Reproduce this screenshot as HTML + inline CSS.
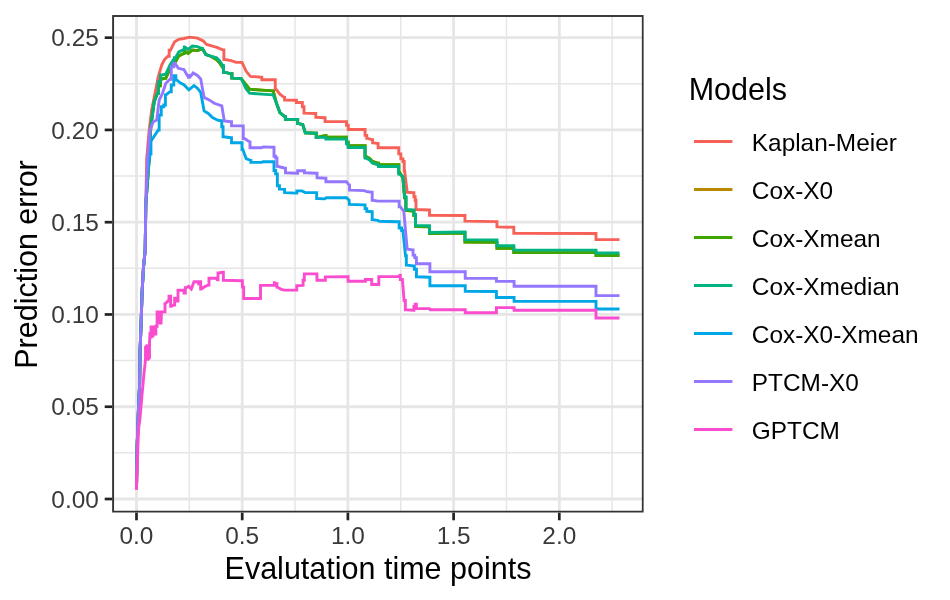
<!DOCTYPE html>
<html><head><meta charset="utf-8"><style>
html,body{margin:0;padding:0;background:#fff;width:950px;height:600px;overflow:hidden}
svg{display:block;will-change:transform}
text{font-family:"Liberation Sans",sans-serif}
.ax{font-size:24.4px;fill:#393939}
.ti{font-size:30.5px;fill:#000}
.lg{font-size:24.4px;fill:#000}
</style></head><body>
<svg width="950" height="600" viewBox="0 0 950 600">
<rect width="950" height="600" fill="#ffffff"/>
<clipPath id="pc"><rect x="112" y="15" width="531.80" height="497.70"/></clipPath>
<g clip-path="url(#pc)">
<line x1="189.35" y1="15" x2="189.35" y2="512.7" stroke="#E6E6E6" stroke-width="1.5"/>
<line x1="295.05" y1="15" x2="295.05" y2="512.7" stroke="#E6E6E6" stroke-width="1.5"/>
<line x1="400.75" y1="15" x2="400.75" y2="512.7" stroke="#E6E6E6" stroke-width="1.5"/>
<line x1="506.45" y1="15" x2="506.45" y2="512.7" stroke="#E6E6E6" stroke-width="1.5"/>
<line x1="612.15" y1="15" x2="612.15" y2="512.7" stroke="#E6E6E6" stroke-width="1.5"/>
<line x1="112" y1="452.87" x2="643.8" y2="452.87" stroke="#E6E6E6" stroke-width="1.5"/>
<line x1="112" y1="360.60" x2="643.8" y2="360.60" stroke="#E6E6E6" stroke-width="1.5"/>
<line x1="112" y1="268.34" x2="643.8" y2="268.34" stroke="#E6E6E6" stroke-width="1.5"/>
<line x1="112" y1="176.07" x2="643.8" y2="176.07" stroke="#E6E6E6" stroke-width="1.5"/>
<line x1="112" y1="83.81" x2="643.8" y2="83.81" stroke="#E6E6E6" stroke-width="1.5"/>
<line x1="136.50" y1="15" x2="136.50" y2="512.7" stroke="#E6E6E6" stroke-width="2.8"/>
<line x1="242.20" y1="15" x2="242.20" y2="512.7" stroke="#E6E6E6" stroke-width="2.8"/>
<line x1="347.90" y1="15" x2="347.90" y2="512.7" stroke="#E6E6E6" stroke-width="2.8"/>
<line x1="453.60" y1="15" x2="453.60" y2="512.7" stroke="#E6E6E6" stroke-width="2.8"/>
<line x1="559.30" y1="15" x2="559.30" y2="512.7" stroke="#E6E6E6" stroke-width="2.8"/>
<line x1="112" y1="499.00" x2="643.8" y2="499.00" stroke="#E6E6E6" stroke-width="2.8"/>
<line x1="112" y1="406.74" x2="643.8" y2="406.74" stroke="#E6E6E6" stroke-width="2.8"/>
<line x1="112" y1="314.47" x2="643.8" y2="314.47" stroke="#E6E6E6" stroke-width="2.8"/>
<line x1="112" y1="222.21" x2="643.8" y2="222.21" stroke="#E6E6E6" stroke-width="2.8"/>
<line x1="112" y1="129.94" x2="643.8" y2="129.94" stroke="#E6E6E6" stroke-width="2.8"/>
<line x1="112" y1="37.68" x2="643.8" y2="37.68" stroke="#E6E6E6" stroke-width="2.8"/>
<polyline points="136.5,489 137,450 138.5,408 139.6,385 140.1,350 141,326 142.1,292 143.5,267 145.2,250 145.8,205 146.7,159 149.2,130 151.7,110 155,93.3 158.3,76.7 161.7,65 164.5,59.5 167.9,56.2 169.15,56.2 169.15,50.3 170.4,50.3 174.6,41.8 178.8,39.3 183.9,38.5 189.8,37.1 197.4,38.1 203.3,41 206.6,44.4 212.5,46.1 217.6,47.7 222.6,49.9 223.9,49.9 223.9,59.5 225.2,59.5 231.1,60.7 236.1,62.4 242,62.4 246.2,71.3 250.4,76.4 261.4,77.2 261.8,77.2 261.8,79.7 262.2,79.7 274,79.7 275.25,79.7 275.25,89.8 276.5,89.8 279.9,94.1 284.1,97.4 284.6,97.4 284.6,100 285.1,100 296,100.3 296.4,100.3 296.4,102.5 296.8,102.5 301.1,102.5 302.35,102.5 302.35,106.7 303.6,106.7 304,106.7 304,113.1 304.4,113.1 315.4,113.5 315.8,113.5 315.8,117.2 316.2,117.2 324.6,117.7 325.05,117.7 325.05,121.6 325.5,121.6 345.7,121.6 346.55,121.6 346.55,125.3 347.4,125.3 348.25,125.3 348.25,129.5 349.1,129.5 364.2,129.5 365.05,129.5 365.05,135.4 365.9,135.4 366.75,135.4 366.75,138.4 367.6,138.4 371.8,139.6 372.65,139.6 372.65,142.9 373.5,142.9 377.7,143.5 378.1,143.5 378.1,147.7 378.5,147.7 397.9,147.7 398.75,147.7 398.75,153.9 399.6,153.9 400.85,153.9 400.85,158.9 402.1,158.9 402.95,158.9 402.95,161.5 403.8,161.5 404.2,161.5 404.2,170.7 404.6,170.7 407.2,192.3 413.1,192.6 413.9,192.6 413.9,196.8 414.7,196.8 415.15,196.8 415.15,200.2 415.6,200.2 416,200.2 416,209.5 416.4,209.5 429.1,210 429.5,210 429.5,215.4 429.9,215.4 464.5,215.5 464.95,215.5 464.95,221.1 465.4,221.1 496.5,221.6 496.95,221.6 496.95,226.9 497.4,226.9 513.4,227.3 513.8,227.3 513.8,233.3 514.2,233.3 596,233.5 596,239.6 619.5,239.6" fill="none" stroke="#F66158" stroke-width="2.9" stroke-linejoin="miter" stroke-miterlimit="2"/>
<polyline points="136.5,489 137,450 138.5,408 139.6,385 140.1,350 141,326 142.1,292 143.5,267 145.2,250 145.8,205 149.2,159 150.8,126.7 154.2,101.7 157.5,93.3 158.35,93.3 158.35,85.7 159.2,85.7 160.45,85.7 160.45,79 161.7,79 165.8,78.2 170,69 173.3,64 174.4,64 174.4,61.8 175.5,61.8 178.8,55.9 183.9,53.4 184.3,53.4 184.3,50.9 184.7,50.9 188.1,53.4 192.3,50.1 197.4,50.6 202.4,48.6 205.8,54.5 210.8,56.2 216.7,59.8 219.3,62.4 222.6,67.4 223.45,67.4 223.45,72.2 224.3,72.2 231.1,73.8 231.9,73.8 231.9,78.1 232.7,78.1 241.2,78.6 246.2,85 249.6,89.2 261.4,90.1 273.2,90.9 276.5,103.3 279.9,112.6 284.9,116.8 285.4,116.8 285.4,119.4 285.9,119.4 296.8,119.4 297.65,119.4 297.65,123.6 298.5,123.6 302.7,124.4 305.3,132.8 315.4,133.2 316.25,133.2 316.25,137.4 317.1,137.4 325.5,135.4 325.9,135.4 325.9,137.1 326.3,137.1 345.7,137.1 346.55,137.1 346.55,142.1 347.4,142.1 348.25,142.1 348.25,145.8 349.1,145.8 364.2,145.8 365.05,145.8 365.05,156.4 365.9,156.4 369.3,158.1 372.6,161.5 377.7,163.1 378.55,163.1 378.55,164.8 379.4,164.8 397.9,164.8 398.75,164.8 398.75,172.4 399.6,172.4 402.9,177.6 404.6,197.8 405.9,197.8 405.9,210.5 407.2,210.5 413.1,211 413.9,211 413.9,215.5 414.7,215.5 415.55,215.5 415.55,226.5 416.4,226.5 429.1,226.8 429.5,226.8 429.5,233.5 429.9,233.5 464.5,233 464.95,233 464.95,242.1 465.4,242.1 496.5,242.4 496.95,242.4 496.95,248.3 497.4,248.3 513.4,248.3 513.8,248.3 513.8,252.6 514.2,252.6 596,252.6 596,255.5 619.5,255.5" fill="none" stroke="#B88800" stroke-width="2.9" stroke-linejoin="miter" stroke-miterlimit="2"/>
<polyline points="136.5,489 137,450 138.5,408 139.6,385 140.1,350 141,326 142.1,292 143.5,267 145.2,250 145.8,205 149.2,159 150.8,126.7 154.2,101.7 157.5,93.3 158.35,93.3 158.35,85.7 159.2,85.7 160.45,85.7 160.45,79 161.7,79 165.8,78.2 170,69 173.3,64 174.4,64 174.4,61.8 175.5,61.8 178.8,55.9 183.9,53.4 184.3,53.4 184.3,50.9 184.7,50.9 188.1,53.4 192.3,50.1 197.4,50.6 202.4,48.6 205.8,54.5 210.8,56.2 216.7,59.8 219.3,62.4 222.6,67.4 223.45,67.4 223.45,72.2 224.3,72.2 231.1,73.8 231.9,73.8 231.9,78.1 232.7,78.1 241.2,78.6 246.2,85 249.6,89.2 261.4,90.1 273.2,90.9 276.5,103.3 279.9,112.6 284.9,116.8 285.4,116.8 285.4,119.4 285.9,119.4 296.8,119.4 297.65,119.4 297.65,123.6 298.5,123.6 302.7,124.4 305.3,132.8 315.4,133.2 316.25,133.2 316.25,137.4 317.1,137.4 325.5,135.4 325.9,135.4 325.9,137.1 326.3,137.1 345.7,137.1 346.55,137.1 346.55,142.1 347.4,142.1 348.25,142.1 348.25,145.8 349.1,145.8 364.2,145.8 365.05,145.8 365.05,156.4 365.9,156.4 369.3,158.1 372.6,161.5 377.7,163.1 378.55,163.1 378.55,164.8 379.4,164.8 397.9,164.8 398.75,164.8 398.75,172.4 399.6,172.4 402.9,177.6 404.6,197.8 405.9,197.8 405.9,210.5 407.2,210.5 413.1,211 413.9,211 413.9,215.5 414.7,215.5 415.55,215.5 415.55,226.5 416.4,226.5 429.1,226.8 429.5,226.8 429.5,233.5 429.9,233.5 464.5,233 464.95,233 464.95,242.1 465.4,242.1 496.5,242.4 496.95,242.4 496.95,248.3 497.4,248.3 513.4,248.3 513.8,248.3 513.8,252.6 514.2,252.6 596,252.6 596,255.5 619.5,255.5" fill="none" stroke="#3FA500" stroke-width="2.9" stroke-linejoin="miter" stroke-miterlimit="2"/>
<polyline points="136.5,489 137,450 138.5,408 139.6,385 140.1,350 141,326 142.1,292 143.5,267 145.2,250 145.8,205 149.2,159 150.8,126.7 154.2,101.7 157.5,93.3 158.35,93.3 158.35,81.7 159.2,81.7 160.45,81.7 160.45,75 161.7,75 165.8,74.2 170,65 173.3,60 174.4,60 174.4,57.8 175.5,57.8 178.8,51.9 183.9,49.4 184.3,49.4 184.3,46.9 184.7,46.9 188.1,49.4 192.3,46.1 197.4,46.6 202.4,48.6 205.8,54.5 210.8,56.2 216.7,57.8 219.3,60.4 222.6,65.4 223.45,65.4 223.45,72.2 224.3,72.2 231.1,73.8 231.9,73.8 231.9,78.1 232.7,78.1 241.2,78.6 246.2,89 249.6,93.2 261.4,94.1 273.2,94.9 276.5,103.3 279.9,112.6 284.9,116.8 285.4,116.8 285.4,119.4 285.9,119.4 296.8,119.4 297.65,119.4 297.65,123.6 298.5,123.6 302.7,124.4 305.3,132.8 315.4,133.2 316.25,133.2 316.25,137.4 317.1,137.4 325.5,137.4 325.9,137.4 325.9,139.1 326.3,139.1 345.7,139.1 346.55,139.1 346.55,143.8 347.4,143.8 348.25,143.8 348.25,147.5 349.1,147.5 364.2,147.5 365.05,147.5 365.05,158.1 365.9,158.1 369.3,159.8 372.6,163.2 377.7,164.8 378.55,164.8 378.55,166.5 379.4,166.5 397.9,166.5 398.75,166.5 398.75,174.1 399.6,174.1 402.9,176.6 404.6,196.8 405.9,196.8 405.9,209.5 407.2,209.5 413.1,210 413.9,210 413.9,214.5 414.7,214.5 415.55,214.5 415.55,225.5 416.4,225.5 429.1,225.8 429.5,225.8 429.5,232.5 429.9,232.5 464.5,232 464.95,232 464.95,239.6 465.4,239.6 496.5,239.9 496.95,239.9 496.95,245.8 497.4,245.8 513.4,245.8 513.8,245.8 513.8,250.1 514.2,250.1 596,250.1 596,253 619.5,253" fill="none" stroke="#00B381" stroke-width="2.9" stroke-linejoin="miter" stroke-miterlimit="2"/>
<polyline points="136.5,489 137,450 138.5,408 139.6,385 140.1,350 141,326 142.1,292 143.5,267 145.2,250 145.8,205 147.7,170.5 150.2,153.7 150.95,153.7 150.95,140 151.7,140 155,135 158.3,130 159.15,130 159.15,115 160,115 161.25,115 161.25,106.7 162.5,106.7 163.75,106.7 163.75,105 165,105 165.4,105 165.4,95 165.8,95 170,91.7 171.25,91.7 171.25,85 172.5,85 173.75,85 173.75,75.8 175,75.8 175.85,75.8 175.85,80 176.7,80 180.5,83.1 183.9,84.8 188.9,89.8 194,85.6 197.4,88.2 200.7,92.4 204.1,110.9 208.3,113.4 212.5,117.6 217.6,120.2 220.9,120.8 221.75,120.8 221.75,126.7 222.6,126.7 223.05,126.7 223.05,136.8 223.5,136.8 231.1,137.7 231.5,137.7 231.5,142.7 231.9,142.7 241.2,142.7 242,142.7 242,149.5 242.8,149.5 246.2,158.7 250.4,160.4 250.85,160.4 250.85,162.4 251.3,162.4 261.4,162.4 263.1,161.8 273.2,161.8 274,161.8 274,170.5 274.8,170.5 275.65,170.5 275.65,173.9 276.5,173.9 277.35,173.9 277.35,185.7 278.2,185.7 279.45,185.7 279.45,189.1 280.7,189.1 284.1,189.4 284.6,189.4 284.6,192.6 285.1,192.6 296,193.1 296.85,193.1 296.85,190.9 297.7,190.9 301.9,190.9 305.3,192.6 316.2,192.6 316.65,192.6 316.65,198.5 317.1,198.5 324.6,198.9 326.3,197.7 346.5,197.7 349.1,200.2 349.4,204.4 364.2,204.9 365.05,204.9 365.05,208.6 365.9,208.6 366.75,208.6 366.75,211.2 367.6,211.2 371.8,211.7 372.2,211.7 372.2,219.6 372.6,219.6 377.7,220.4 379.4,221.3 397.9,221.8 399.15,221.8 399.15,228 400.4,228 401.65,228 401.65,230.5 402.9,230.5 405.5,255.8 406.35,255.8 406.35,265.1 407.2,265.1 413.1,265.9 414.35,265.9 414.35,269.3 415.6,269.3 416.45,269.3 416.45,276.8 417.3,276.8 429.5,277.3 429.9,277.3 429.9,285.7 430.3,285.7 464.8,285.7 465.25,285.7 465.25,291.3 465.7,291.3 496,291.5 496.4,291.5 496.4,297.5 496.8,297.5 513.7,297.5 514.1,297.5 514.1,301.4 514.5,301.4 596,301.4 596,309 619.5,309" fill="none" stroke="#00A7E6" stroke-width="2.9" stroke-linejoin="miter" stroke-miterlimit="2"/>
<polyline points="136.5,489 137,450 138.5,408 139.6,385 140.1,350 141,326 142.1,292 143.5,267 145.2,250 145.8,205 147.5,159 150,130 153.3,121.7 156.7,120 159.2,100 162.5,93.3 165.8,83.3 170,79.2 171.25,79.2 171.25,66.7 172.5,66.7 173.75,66.7 173.75,63.3 175,63.3 178.3,68.3 183.9,69.6 187.3,75.5 188.55,75.5 188.55,77.2 189.8,77.2 193.2,73 197.4,75.5 200.7,78.9 204.1,97.4 209.2,99.9 214.2,103.3 221.8,105.8 224.3,121 231.1,121.7 231.5,121.7 231.5,125.9 231.9,125.9 242,125.9 243.25,125.9 243.25,138.5 244.5,138.5 249.6,141.9 250,141.9 250,147.8 250.4,147.8 261.4,147.8 263.1,146.9 273.2,147.3 274,147.3 274,156.2 274.8,156.2 275.65,156.2 275.65,157.9 276.5,157.9 276.95,157.9 276.95,166.3 277.4,166.3 284.1,168 285.1,168.2 285.5,168.2 285.5,172.8 285.9,172.8 296.8,173.3 297.65,173.3 297.65,170.7 298.5,170.7 303.6,170.7 304.45,170.7 304.45,172.8 305.3,172.8 316.2,173.3 317.05,173.3 317.05,177.8 317.9,177.8 325.5,178.3 325.9,178.3 325.9,181.7 326.3,181.7 346.5,181.7 349.1,185.1 349.5,185.1 349.5,190.1 349.9,190.1 364.2,190.6 367.6,191.8 371.8,192.1 372.2,192.1 372.2,200.2 372.6,200.2 377.7,201.1 397.9,201.1 399.15,201.1 399.15,206.9 400.4,206.9 403.8,211.2 405.5,230.5 407.2,249.1 412.6,250 413.05,250 413.05,255.1 413.5,255.1 414.75,255.1 414.75,257.6 416,257.6 416.4,257.6 416.4,263.8 416.8,263.8 429.5,263.8 429.9,263.8 429.9,271.8 430.3,271.8 464.8,271.8 465.25,271.8 465.25,278.3 465.7,278.3 496,278.4 496.4,278.4 496.4,281.2 496.8,281.2 513.7,281.4 514.1,281.4 514.1,286.3 514.5,286.3 596,286.3 596,295.6 619.5,295.6" fill="none" stroke="#9476FF" stroke-width="2.9" stroke-linejoin="miter" stroke-miterlimit="2"/>
<polyline points="136.4,489.9 137.4,463.3 137.9,445 138.8,426.7 139.8,420 142,395 144.1,372.3 145.5,360 145.5,347 147.5,345 147.5,360 149.5,358 149.5,344 150,332 150.5,337 151,337 151,327 151.5,327 152.25,327 152.25,336 153,336 153,327 155,327 155,334 155.85,334 155.85,326.3 156.7,326.3 157.1,326.3 157.1,312 157.5,312 158.25,312 158.25,322 159,322 159.5,312 160.25,312 160.25,323 161,323 161.5,312 164.7,311.7 165,311.7 165,303.7 165.3,303.7 168,301 169,301 169,296.3 170,296.3 170.65,296.3 170.65,306.3 171.3,306.3 174,305 174.65,305 174.65,298.3 175.3,298.3 176.3,298.3 176.3,301 177.3,301 178,301 178,290.3 178.7,290.3 183.3,290.3 184,290.3 184,293 184.7,293 185.35,293 185.35,287.7 186,287.7 188.7,286.3 191.3,289 194,281.7 198,281.7 198.65,281.7 198.65,283.7 199.3,283.7 199.65,283.7 199.65,281.7 200,281.7 200.65,281.7 200.65,289 201.3,289 205.3,286.3 208.7,285 209,285 209,278.3 209.3,278.3 216,278.3 217.3,279.7 218,279.7 218,273 218.7,273 222.7,272.3 223.35,272.3 223.35,280.3 224,280.3 242,280.7 242.4,280.7 242.4,287.1 242.8,287.1 243.65,287.1 243.65,298.5 244.5,298.5 260.5,298.5 260.5,285.4 274,285.4 274.4,285.4 274.4,282.8 274.8,282.8 276.5,283.7 276.95,283.7 276.95,287.1 277.4,287.1 280.7,289.1 284.1,290.1 296.3,290.1 296.75,290.1 296.75,285.7 297.2,285.7 302.2,285.4 303.05,285.4 303.05,280.3 303.9,280.3 304.3,280.3 304.3,273.9 304.7,273.9 316.5,273.9 316.95,273.9 316.95,280.3 317.4,280.3 324.9,280.3 325.35,280.3 325.35,276.9 325.8,276.9 347.7,276.6 348.1,276.6 348.1,281.2 348.5,281.2 364.5,281.2 365.35,281.2 365.35,279.5 366.2,279.5 371.3,279.5 371.7,279.5 371.7,284.5 372.1,284.5 378.8,284.5 378.8,276.6 398.2,276.6 399.9,275.3 400.3,275.3 400.3,279.5 400.7,279.5 402.4,279.5 404.1,300.5 405.35,300.5 405.35,309.8 406.6,309.8 413.5,310.3 413.9,310.3 413.9,306.4 414.3,306.4 415.15,306.4 415.15,304.2 416,304.2 416.4,304.2 416.4,308.6 416.8,308.6 429.5,308.6 430.3,309.8 464.8,309.8 465.25,309.8 465.25,312.7 465.7,312.7 496,312.7 496.4,312.7 496.4,307.6 496.8,307.6 513.7,307.6 514.1,307.6 514.1,310.2 514.5,310.2 596,310.2 596,318 619.5,318" fill="none" stroke="#FA4CCE" stroke-width="2.9" stroke-linejoin="miter" stroke-miterlimit="2"/>
<rect x="113.1" y="16" width="529.70" height="495.70" fill="none" stroke="#333333" stroke-width="1.9"/>
</g>
<line x1="104.7" y1="499.00" x2="112" y2="499.00" stroke="#222222" stroke-width="2.7"/>
<text x="98.8" y="507.70" text-anchor="end" class="ax">0.00</text>
<line x1="104.7" y1="406.74" x2="112" y2="406.74" stroke="#222222" stroke-width="2.7"/>
<text x="98.8" y="415.44" text-anchor="end" class="ax">0.05</text>
<line x1="104.7" y1="314.47" x2="112" y2="314.47" stroke="#222222" stroke-width="2.7"/>
<text x="98.8" y="323.17" text-anchor="end" class="ax">0.10</text>
<line x1="104.7" y1="222.21" x2="112" y2="222.21" stroke="#222222" stroke-width="2.7"/>
<text x="98.8" y="230.91" text-anchor="end" class="ax">0.15</text>
<line x1="104.7" y1="129.94" x2="112" y2="129.94" stroke="#222222" stroke-width="2.7"/>
<text x="98.8" y="138.64" text-anchor="end" class="ax">0.20</text>
<line x1="104.7" y1="37.68" x2="112" y2="37.68" stroke="#222222" stroke-width="2.7"/>
<text x="98.8" y="46.38" text-anchor="end" class="ax">0.25</text>
<line x1="136.50" y1="512.7" x2="136.50" y2="520.3" stroke="#222222" stroke-width="2.7"/>
<text x="136.50" y="543.9" text-anchor="middle" class="ax">0.0</text>
<line x1="242.20" y1="512.7" x2="242.20" y2="520.3" stroke="#222222" stroke-width="2.7"/>
<text x="242.20" y="543.9" text-anchor="middle" class="ax">0.5</text>
<line x1="347.90" y1="512.7" x2="347.90" y2="520.3" stroke="#222222" stroke-width="2.7"/>
<text x="347.90" y="543.9" text-anchor="middle" class="ax">1.0</text>
<line x1="453.60" y1="512.7" x2="453.60" y2="520.3" stroke="#222222" stroke-width="2.7"/>
<text x="453.60" y="543.9" text-anchor="middle" class="ax">1.5</text>
<line x1="559.30" y1="512.7" x2="559.30" y2="520.3" stroke="#222222" stroke-width="2.7"/>
<text x="559.30" y="543.9" text-anchor="middle" class="ax">2.0</text>
<text x="378" y="579.1" text-anchor="middle" class="ti">Evalutation time points</text>
<text transform="translate(37,264.5) rotate(-90)" x="0" y="0" text-anchor="middle" class="ti">Prediction error</text>
<text x="688.7" y="100.1" class="ti">Models</text>
<line x1="694" y1="141.45" x2="732.4" y2="141.45" stroke="#F66158" stroke-width="2.9"/>
<text x="751.8" y="150.55" class="lg">Kaplan-Meier</text>
<line x1="694" y1="189.45" x2="732.4" y2="189.45" stroke="#B88800" stroke-width="2.9"/>
<text x="751.8" y="198.55" class="lg">Cox-X0</text>
<line x1="694" y1="237.45" x2="732.4" y2="237.45" stroke="#3FA500" stroke-width="2.9"/>
<text x="751.8" y="246.55" class="lg">Cox-Xmean</text>
<line x1="694" y1="285.45" x2="732.4" y2="285.45" stroke="#00B381" stroke-width="2.9"/>
<text x="751.8" y="294.55" class="lg">Cox-Xmedian</text>
<line x1="694" y1="333.45" x2="732.4" y2="333.45" stroke="#00A7E6" stroke-width="2.9"/>
<text x="751.8" y="342.55" class="lg">Cox-X0-Xmean</text>
<line x1="694" y1="381.45" x2="732.4" y2="381.45" stroke="#9476FF" stroke-width="2.9"/>
<text x="751.8" y="390.55" class="lg">PTCM-X0</text>
<line x1="694" y1="429.45" x2="732.4" y2="429.45" stroke="#FA4CCE" stroke-width="2.9"/>
<text x="751.8" y="438.55" class="lg">GPTCM</text>
</svg>
</body></html>
